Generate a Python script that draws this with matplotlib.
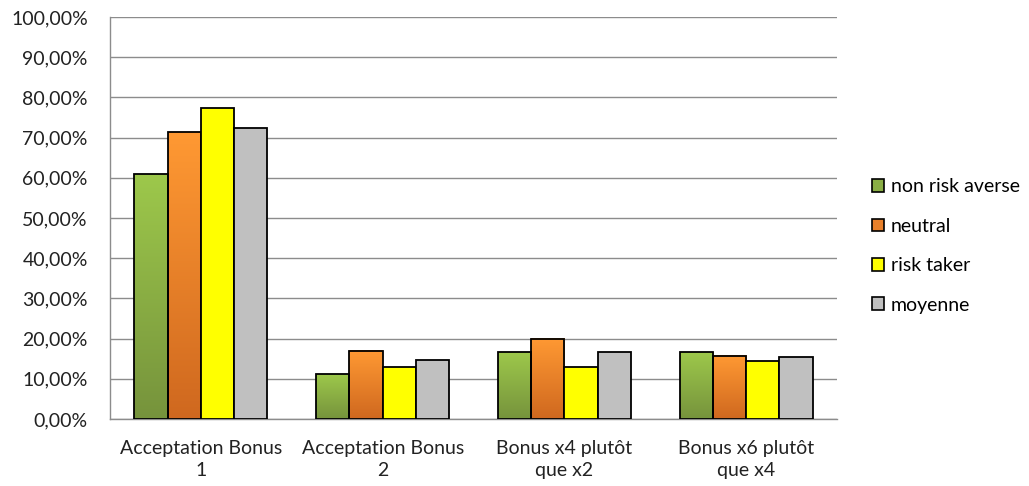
import numpy as np
import matplotlib
matplotlib.use('Agg')
import matplotlib.pyplot as plt
from matplotlib.patches import Patch
from matplotlib.colors import LinearSegmentedColormap
from matplotlib.ticker import FuncFormatter

plt.rcParams['font.family'] = ['Lato', 'DejaVu Sans']

# data
categories = ['Acceptation Bonus\n1', 'Acceptation Bonus\n2', 'Bonus x4 plutôt\nque x2', 'Bonus x6 plutôt\nque x4']
series_names = ['non risk averse', 'neutral', 'risk taker', 'moyenne']
non_risk_averse = [0.609, 0.111, 0.166, 0.166]
neutral = [0.713, 0.170, 0.200, 0.157]
risk_taker = [0.773, 0.129, 0.129, 0.145]
moyenne = [0.724, 0.147, 0.166, 0.153]
yticks = np.arange(0, 1.01, 0.1)

series = [non_risk_averse, neutral, risk_taker, moyenne]
# (top colour, bottom colour); same colour means flat fill
colors = [('#9dc84b', '#76933c'), ('#ff9933', '#cf681f'), ('#ffff00', '#ffff00'), ('#c0c0c0', '#c0c0c0')]
fs = 14

fig = plt.figure(figsize=(10.29, 4.86), dpi=100)
ax = fig.add_axes([110/1029, 1 - 419/486, (837-110)/1029, (419-17)/486])

x = np.arange(len(categories))
bw = 0.183
grad = np.linspace(0, 1, 256).reshape(-1, 1)
for i, (vals, (ctop, cbot)) in enumerate(zip(series, colors)):
    pos = x + (i - 1.5) * bw
    if ctop != cbot:
        cmap = LinearSegmentedColormap.from_list('g%d' % i, [cbot, ctop])
        for p, v in zip(pos, vals):
            ax.imshow(grad, cmap=cmap, aspect='auto', origin='lower',
                      extent=(p - bw/2, p + bw/2, 0, v), zorder=2)
        ax.bar(pos, vals, width=bw, facecolor='none', edgecolor='black', linewidth=1.3, zorder=3)
    else:
        ax.bar(pos, vals, width=bw, facecolor=ctop, edgecolor='black', linewidth=1.3, zorder=3)

ax.set_xlim(-0.5, len(categories) - 0.5)
ax.set_ylim(0, 1.0)
ax.set_yticks(yticks)
ax.yaxis.set_major_formatter(FuncFormatter(lambda v, _: ('%.2f%%' % (v * 100)).replace('.', ',')))
ax.set_xticks(x)
ax.set_xticklabels(categories, fontsize=fs, color='#222222', linespacing=1.38)
ax.tick_params(axis='y', labelsize=fs, labelcolor='#222222', length=0, pad=16)
ax.tick_params(axis='x', length=0, pad=15)
ax.grid(axis='y', color='#8c8c8c', linewidth=1.0, zorder=0)
ax.set_axisbelow(True)
for s in ['top', 'right']:
    ax.spines[s].set_visible(False)
for s in ['left', 'bottom']:
    ax.spines[s].set_color('#8c8c8c')
    ax.spines[s].set_linewidth(1.0)

handles = [Patch(facecolor='#8aae45', edgecolor='black', linewidth=1.2),
           Patch(facecolor='#e8802a', edgecolor='black', linewidth=1.2),
           Patch(facecolor='#ffff00', edgecolor='black', linewidth=1.2),
           Patch(facecolor='#c0c0c0', edgecolor='black', linewidth=1.2)]
fig.legend(handles, series_names, loc='center left', bbox_to_anchor=(872/1029, 1 - 246/486),
           frameon=False, fontsize=fs, handlelength=0.62, handleheight=0.62,
           handletextpad=0.35, labelspacing=1.15, borderpad=0, borderaxespad=0)

fig.savefig('out.png', dpi=100)
